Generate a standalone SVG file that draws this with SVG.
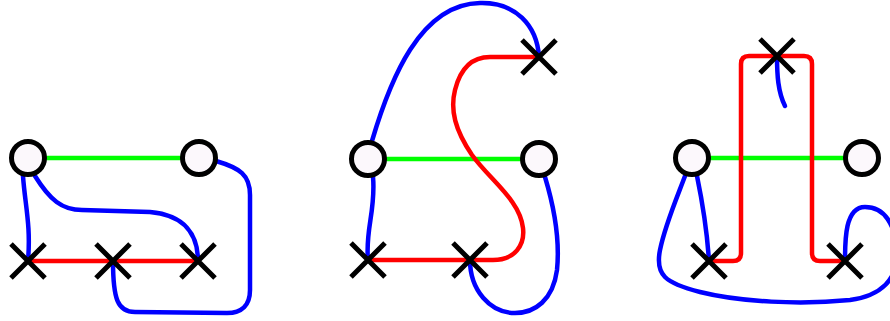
<svg xmlns="http://www.w3.org/2000/svg" width="890" height="321" viewBox="0 0 890 321">
<style>
.g{stroke:#00ff00;stroke-width:4.5;fill:none}
.r{stroke:#ff0000;stroke-width:4.5;fill:none}
.b{stroke:#0000ff;stroke-width:4.5;fill:none;stroke-linecap:round}
.c{fill:#fcf8fc;stroke:#000;stroke-width:5}
.x{stroke:#000;stroke-width:5;fill:none}
</style>
<defs>
<g id="cross"><path d="M-17,-17 L17,17 M17,-17 L-17,17"/></g>
</defs>
<g id="connectors">
<!-- panel 1 -->
<path class="g" d="M28,158 L199,158"/>
<path class="r" d="M28,261 L198,261"/>
<path class="b" d="M23,176 C25,205 31,225 28,261"/>
<path class="b" d="M35,176 C50,200 62,210 82,210 L150,212 C185,215 198,235 198,261"/>
<path class="b" d="M216,161 C240,168 250,175 250,195 L250,290 C250,305 242,313 227,313 L135,312 C118,312 113,300 113,261"/>
<!-- panel 2 -->
<path class="g" d="M368,159 L539,159"/>
<path class="r" d="M368,260 L493,260 C515,260 525,245 523,228 C520,200 490,180 472,155 C455,130 450,110 455,90 C460,70 470,57 490,57 L539,57"/>
<path class="b" d="M372,141 C390,80 420,4 480,3 C515,2 537,25 539,57"/>
<path class="b" d="M373,177 C376,210 365,230 368,260"/>
<path class="b" d="M545,177 C555,210 560,240 557,270 C553,300 535,313 515,313 C490,313 470,290 470,260"/>
<!-- panel 3 -->
<path class="g" d="M692,158 L862,158"/>
<path class="r" d="M709,261 L733,261 Q741,261 741,253 L741,64 Q741,56 749,56 L804,56 Q812,56 812,64 L812,253 Q812,261 820,261 L845,261"/>
<path class="b" d="M777,56 C777,75 778,92 785,106"/>
<path class="b" d="M697,176 C703,205 707,230 709,261"/>
<path class="b" d="M845,261 C845,240 845,207 865,207 C885,207 895,225 897,250 C899,280 880,296 850,300 C800,305 740,302 700,292 C665,283 655,275 660,250 C665,225 678,195 685,176"/>
</g>
<g id="n1"><circle class="c" cx="28" cy="158" r="16.5"/></g>
<g id="n2"><circle class="c" cx="199" cy="158" r="16.5"/></g>
<g id="x1" class="x"><use href="#cross" x="28" y="261"/></g>
<g id="x2" class="x"><use href="#cross" x="113" y="261"/></g>
<g id="x3" class="x"><use href="#cross" x="198" y="261"/></g>
<g id="n3"><circle class="c" cx="368" cy="159" r="16.5"/></g>
<g id="n4"><circle class="c" cx="539" cy="159" r="16.5"/></g>
<g id="x4" class="x"><use href="#cross" x="368" y="260"/></g>
<g id="x5" class="x"><use href="#cross" x="470" y="260"/></g>
<g id="x6" class="x"><use href="#cross" x="539" y="57"/></g>
<g id="n5"><circle class="c" cx="692" cy="158" r="16.5"/></g>
<g id="n6"><circle class="c" cx="862" cy="158" r="16.5"/></g>
<g id="x7" class="x"><use href="#cross" x="709" y="261"/></g>
<g id="x8" class="x"><use href="#cross" x="845" y="261"/></g>
<g id="x9" class="x"><use href="#cross" x="777" y="56"/></g>
</svg>
